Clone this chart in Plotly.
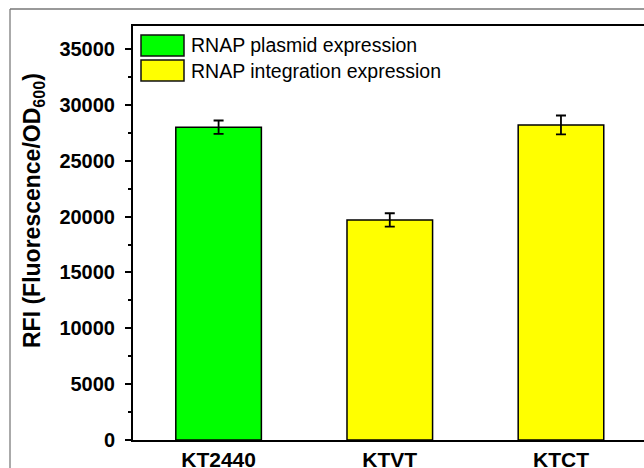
import plotly.graph_objects as go

categories = ["KT2440", "KTVT", "KTCT"]
plasmid_x = ["KT2440"]
plasmid_vals = [28000]
plasmid_err = [600]
integ_x = ["KTVT", "KTCT"]
integ_vals = [19700, 28200]
integ_err = [600, 850]
legend_names = ["RNAP plasmid expression", "RNAP integration expression"]
y_title = "RFI (Fluorescence/OD<sub>600</sub>)"
y_ticks = [0, 5000, 10000, 15000, 20000, 25000, 30000, 35000]

W, H = 644, 468
L, T, B = 133, 26, 440
R = 644

def px_x(p):
    return (p - L) / (R - L)

def px_y(p):
    return (B - p) / (B - T)

GREEN = "#00ff00"
YELLOW = "#ffff00"
FONT = "Liberation Sans"

fig = go.Figure()
fig.add_trace(go.Bar(
    x=plasmid_x, y=plasmid_vals, width=0.5, name=legend_names[0],
    marker=dict(color=GREEN, line=dict(color="black", width=1.5)),
    error_y=dict(type="data", array=plasmid_err, color="black", thickness=1.8, width=5),
))
fig.add_trace(go.Bar(
    x=integ_x, y=integ_vals, width=0.5, name=legend_names[1],
    marker=dict(color=YELLOW, line=dict(color="black", width=1.5)),
    error_y=dict(type="data", array=integ_err, color="black", thickness=1.8, width=5),
))

shapes = []
annotations = []
# outer light gray frame
shapes.append(dict(type="line", xref="paper", yref="paper",
                   x0=px_x(10), x1=px_x(10), y0=px_y(9), y1=px_y(470),
                   line=dict(color="#aaaaaa", width=2)))
shapes.append(dict(type="line", xref="paper", yref="paper",
                   x0=px_x(10), x1=px_x(650), y0=px_y(9), y1=px_y(9),
                   line=dict(color="#777777", width=1.5)))
# manual legend
for i, (name, col) in enumerate(zip(legend_names, [GREEN, YELLOW])):
    y0 = 35 + i * 25
    y1 = y0 + 21
    shapes.append(dict(type="rect", xref="paper", yref="paper",
                       x0=px_x(141), x1=px_x(184), y0=px_y(y1), y1=px_y(y0),
                       fillcolor=col, line=dict(color="#111111", width=1.5)))
    annotations.append(dict(xref="paper", yref="paper", x=px_x(189), y=px_y((y0 + y1) / 2),
                            text=name, showarrow=False, xanchor="left", yanchor="middle",
                            font=dict(family=FONT, size=19.5, color="black")))
annotations.append(dict(xref="paper", yref="paper", x=px_x(33), y=px_y(211),
                        text="<b>" + y_title + "</b>", showarrow=False, textangle=-90,
                        xanchor="center", yanchor="middle",
                        font=dict(family=FONT, size=23, color="black")))

fig.update_layout(
    width=W, height=H,
    margin=dict(l=L, r=W - R, t=T, b=H - B, autoexpand=False),
    paper_bgcolor="white", plot_bgcolor="white",
    barmode="overlay", showlegend=False,
    shapes=shapes, annotations=annotations,
    font=dict(family=FONT, color="black"),
)
fig.update_xaxes(
    type="category", categoryorder="array", categoryarray=categories,
    range=[-0.5, 2.485], showline=True, linecolor="black", linewidth=2, mirror=True,
    ticks="", showgrid=False,
    tickfont=dict(family=FONT, size=21, color="black", weight="bold"),
    ticklabelstandoff=0,
)
fig.update_yaxes(
    range=[0, 37060], tickvals=y_ticks, ticktext=[str(v) for v in y_ticks],
    ticks="outside", ticklen=6, tickwidth=1.5, tickcolor="black",
    minor=dict(dtick=2500, ticks="outside", ticklen=3, tickwidth=1.5, tickcolor="black", showgrid=False),
    showline=True, linecolor="black", linewidth=2, mirror=False,
    showgrid=False, zeroline=False,
    tickfont=dict(family=FONT, size=20, color="black", weight="bold"),
    ticklabelstandoff=6,
)

fig.write_html("out.html", config={"displayModeBar": False},
               post_script="document.body.style.margin='0';document.body.style.overflow='hidden';")
